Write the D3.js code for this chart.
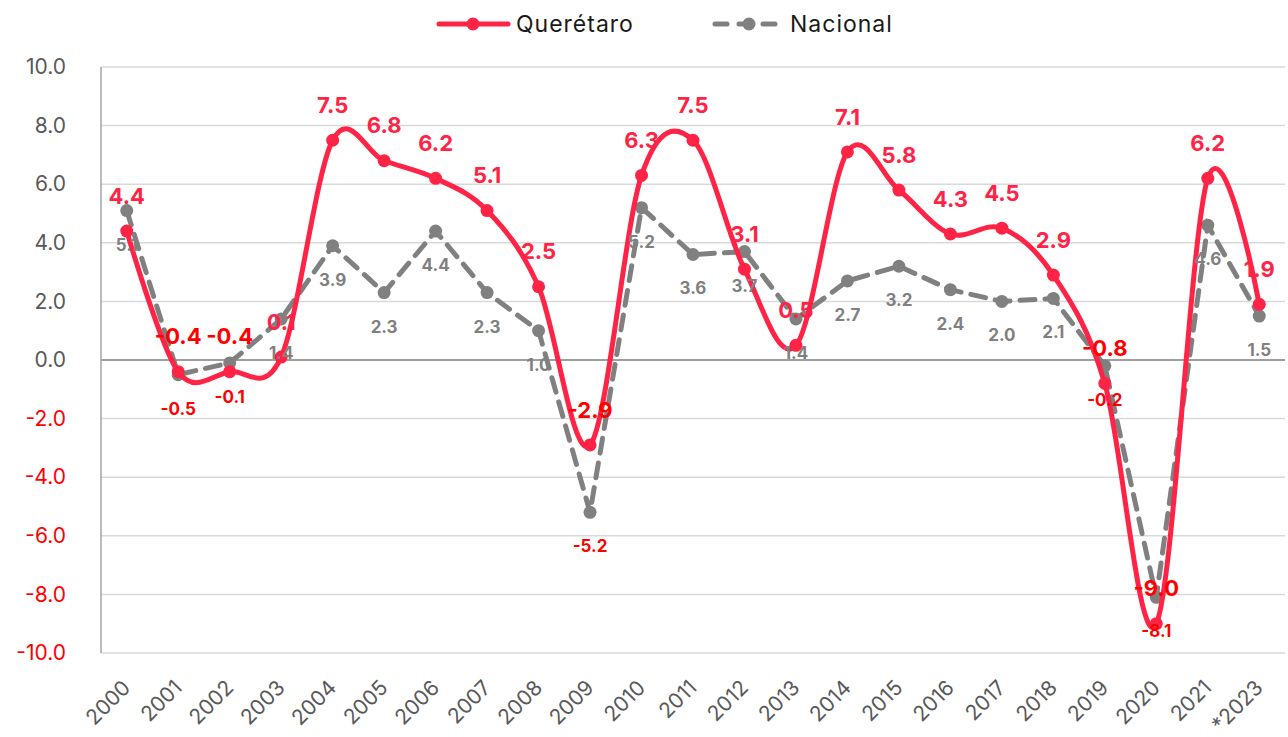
<!DOCTYPE html>
<html>
<head>
<meta charset="utf-8">
<script src="https://cdn.jsdelivr.net/npm/d3@7"></script>
<style>
  body { margin: 0; background: #fff; font-family: Inter, "Open Sans", sans-serif; }
  svg { display: block; }
</style>
</head>
<body>
<svg id="chart"></svg>
<script>
// data
let years = ["2000","2001","2002","2003","2004","2005","2006","2007","2008","2009","2010",
             "2011","2012","2013","2014","2015","2016","2017","2018","2019","2020","2021","*2023"]
let queretaro = [4.4, -0.4, -0.4, 0.1, 7.5, 6.8, 6.2, 5.1, 2.5, -2.9, 6.3,
                 7.5, 3.1, 0.5, 7.1, 5.8, 4.3, 4.5, 2.9, -0.8, -9.0, 6.2, 1.9]
let nacional = [5.1, -0.5, -0.1, 1.4, 3.9, 2.3, 4.4, 2.3, 1.0, -5.2, 5.2,
                3.6, 3.7, 1.4, 2.7, 3.2, 2.4, 2.0, 2.1, -0.2, -8.1, 4.6, 1.5]
let yTicks = [-10, -8, -6, -4, -2, 0, 2, 4, 6, 8, 10]
let seriesNames = ["Querétaro", "Nacional"]

let red = "#ff2346"
let negRed = "#ff0000"
let gray = "#808080"

function getConfig() {
  let width = 1288
  let height = 737
  let margin = { top: 67, bottom: 84, left: 101, right: 3 }
  let bodyWidth = width - margin.left - margin.right
  let bodyHeight = height - margin.top - margin.bottom
  let container = d3.select("#chart").attr("width", width).attr("height", height)
  return { width, height, margin, bodyWidth, bodyHeight, container }
}

function getScales(config) {
  let { margin, width, height } = config
  let xScale = d3.scaleBand()
    .domain(years)
    .range([margin.left, width - margin.right])
  let yScale = d3.scaleLinear()
    .domain([-10, 10])
    .range([height - margin.bottom, margin.top])
  return { xScale, yScale }
}

let fmt = v => d3.format(".1f")(v).replace("−", "-")

function drawAxes(config, scales) {
  let { container, margin, width, height } = config
  let { xScale, yScale } = scales

  // gridlines
  container.append("g").selectAll("line").data(yTicks).enter().append("line")
    .attr("x1", margin.left).attr("x2", width - margin.right)
    .attr("y1", d => yScale(d)).attr("y2", d => yScale(d))
    .attr("stroke", d => d == 0 ? "#7f7f7f" : "#d9d9d9")
    .attr("stroke-width", 1.5)

  // y axis line
  container.append("line")
    .attr("x1", margin.left).attr("x2", margin.left)
    .attr("y1", yScale(10)).attr("y2", yScale(-10))
    .attr("stroke", "#a6a6a6").attr("stroke-width", 1.5)

  let axisY = d3.axisLeft(yScale).tickValues(yTicks).tickFormat(fmt).tickSize(0).tickPadding(35)
  let gy = container.append("g")
    .attr("transform", `translate(${margin.left},0)`)
    .call(axisY)
  gy.select(".domain").remove()
  gy.selectAll("text")
    .attr("font-size", 21)
    .attr("font-family", "Inter, sans-serif")
    .attr("fill", d => d < 0 ? negRed : "#595959")

  // x labels, rotated
  container.append("g").selectAll("text").data(years).enter().append("text")
    .attr("transform", d => `translate(${xScale(d) + xScale.bandwidth() / 2 + 5},${height - margin.bottom + 36}) rotate(-45)`)
    .attr("text-anchor", "end")
    .attr("font-size", 21)
    .attr("fill", "#595959")
    .text(d => d)
}

function drawSeries(config, scales) {
  let { container } = config
  let { xScale, yScale } = scales
  let cx = i => xScale(years[i]) + xScale.bandwidth() / 2

  let natLine = d3.line().x((d, i) => cx(i)).y(d => yScale(d))
  let qroLine = d3.line().x((d, i) => cx(i)).y(d => yScale(d)).curve(d3.curveCardinal.tension(0))

  container.append("path").datum(nacional)
    .attr("d", natLine)
    .attr("fill", "none").attr("stroke", gray).attr("stroke-width", 5)
    .attr("stroke-dasharray", "15,10").attr("stroke-linecap", "round")

  container.append("g").selectAll("circle").data(nacional).enter().append("circle")
    .attr("cx", (d, i) => cx(i)).attr("cy", d => yScale(d)).attr("r", 6.5)
    .attr("fill", gray)

  container.append("path").datum(queretaro)
    .attr("d", qroLine)
    .attr("fill", "none").attr("stroke", red).attr("stroke-width", 5)

  container.append("g").selectAll("circle").data(queretaro).enter().append("circle")
    .attr("cx", (d, i) => cx(i)).attr("cy", d => yScale(d)).attr("r", 6.5)
    .attr("fill", red)

  // labels
  container.append("g").selectAll("text").data(nacional).enter().append("text")
    .attr("x", (d, i) => cx(i)).attr("y", d => yScale(d) + 34)
    .attr("dy", "0.35em").attr("text-anchor", "middle")
    .attr("font-size", 17).attr("font-weight", "bold")
    .attr("fill", d => d < 0 ? negRed : gray)
    .text(fmt)

  container.append("g").selectAll("text").data(queretaro).enter().append("text")
    .attr("x", (d, i) => cx(i)).attr("y", d => yScale(d) - 35)
    .attr("dy", "0.35em").attr("text-anchor", "middle")
    .attr("font-size", 22).attr("font-weight", "bold")
    .attr("fill", d => d < 0 ? negRed : red)
    .text(fmt)
}

function drawLegend(config) {
  let { container } = config
  let y = 24
  let g = container.append("g")

  g.append("line").attr("x1", 439).attr("x2", 508).attr("y1", y).attr("y2", y)
    .attr("stroke", red).attr("stroke-width", 5).attr("stroke-linecap", "round")
  g.append("circle").attr("cx", 473).attr("cy", y).attr("r", 6.5).attr("fill", red)
  g.append("text").attr("x", 516).attr("y", y).attr("dy", "0.35em")
    .attr("font-size", 23).attr("letter-spacing", 1).attr("fill", "#1a1a1a").text(seriesNames[0])

  g.append("line").attr("x1", 715).attr("x2", 775).attr("y1", y).attr("y2", y)
    .attr("stroke", gray).attr("stroke-width", 5).attr("stroke-linecap", "round")
    .attr("stroke-dasharray", "12,12")
  g.append("circle").attr("cx", 749).attr("cy", y).attr("r", 6.5).attr("fill", gray)
  g.append("text").attr("x", 790).attr("y", y).attr("dy", "0.35em")
    .attr("font-size", 23).attr("letter-spacing", 1).attr("fill", "#1a1a1a").text(seriesNames[1])
}

let config = getConfig()
let scales = getScales(config)
drawAxes(config, scales)
drawSeries(config, scales)
drawLegend(config)
</script>
</body>
</html>
